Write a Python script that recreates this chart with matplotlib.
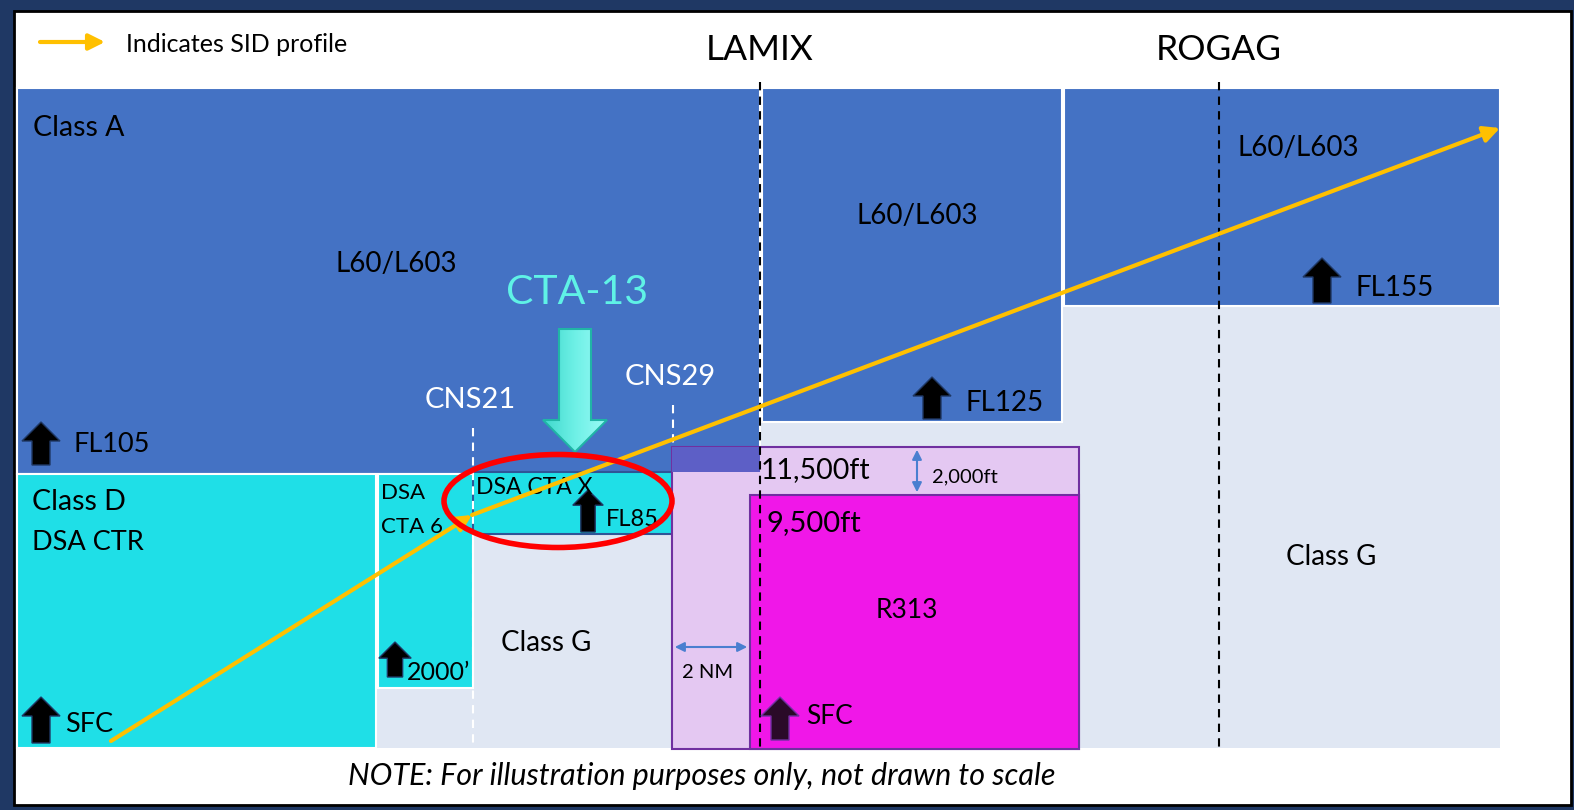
import numpy as np
import matplotlib.pyplot as plt
from matplotlib.colors import LinearSegmentedColormap
from matplotlib.patches import Rectangle, Ellipse, Polygon, FancyArrowPatch

plt.rcParams['font.family'] = ['Lato', 'DejaVu Sans']

# colours
NAVY = '#1f3864'
BLUE = '#4472c4'
CYAN = '#1fdfe7'
LIGHT = '#e0e7f3'
LILAC = '#e4c8f2'
MAGENTA = '#f017e8'
PURPLE = '#7030a0'
OVERLAP = '#5d5fc6'
ORANGE = '#ffc000'

# airspace blocks: x0, y0, x1, y1 (picture pixels, y down)
class_g_area = [17, 88, 1500, 748]
class_a_blocks = [[17, 88, 760, 474], [762, 88, 1062, 422], [1064, 88, 1500, 306]]
class_d_ctr = [17, 474, 376, 748]
cta6 = [378, 474, 473, 688]
cta_x = [473, 472, 672, 534]
buffer_box = [672, 447, 1079, 749]
r313 = [750, 495, 1079, 749]
overlap = [672, 447, 760, 472]

# waypoint dashed lines: name, x, y_top, y_bottom
waypoints = [['LAMIX', 760, 82, 749], ['ROGAG', 1219, 82, 748]]
cns_points = [['CNS21', 473, 428, 748], ['CNS29', 673, 405, 447]]

# SID profile segments
sid_x = [111, 472, 1500]
sid_y = [741, 515, 128]

# vertical limit arrows: x centre, top, bottom, label, label x, label y, font size, arrow scale
limit_arrows = [
    [41, 422, 465, 'FL105', 73, 445, 19.5, 1.0],
    [932, 377, 419, 'FL125', 965, 403, 20, 1.0],
    [1322, 258, 303, 'FL155', 1356, 288, 20, 1.0],
    [41, 697, 743, 'SFC', 65, 725, 19.5, 1.0],
    [395, 642, 677, '2000\u2019', 407, 672, 18, 0.85],
    [588, 490, 532, 'FL85', 606, 520, 17, 0.8],
]

# text labels: text, x, y, size, alignment
labels = [
    ['Class A', 33, 128, 20.5, 'left'],
    ['L60/L603', 396, 264, 20, 'center'],
    ['L60/L603', 917, 216, 20, 'center'],
    ['L60/L603', 1237, 148, 20, 'left'],
    ['Class D', 32, 502, 20.5, 'left'],
    ['DSA CTR', 32, 543, 19.5, 'left'],
    ['DSA', 381, 493, 16, 'left'],
    ['CTA 6', 381, 527, 16, 'left'],
    ['DSA CTA X', 476, 488, 16.5, 'left'],
    ['Class G', 546, 643, 20, 'center'],
    ['Class G', 1331, 557, 20, 'center'],
    ['11,500ft', 761, 470, 20.5, 'left'],
    ['2,000ft', 932, 477, 14.5, 'left'],
    ['9,500ft', 766, 523, 21, 'left'],
    ['R313', 907, 610, 19, 'center'],
    ['2 NM', 708, 673, 14.5, 'center'],
]

fig = plt.figure(figsize=(15.74, 8.10), dpi=100)
fig.patch.set_facecolor(NAVY)
ax = fig.add_axes([0, 0, 1, 1])
ax.set_xlim(0, 1574)
ax.set_ylim(810, 0)
ax.axis('off')


def box(b, fc, ec='none', lw=0, z=1):
    ax.add_patch(Rectangle((b[0], b[1]), b[2] - b[0], b[3] - b[1],
                           facecolor=fc, edgecolor=ec, linewidth=lw, zorder=z))


def up_arrow(x, top, bottom, scale=1.0, fc='black', ec=NAVY):
    hw = 19 * scale
    sw = 9 * scale
    hl = 19 * scale
    pts = [(x, top), (x + hw, top + hl), (x + sw, top + hl), (x + sw, bottom),
           (x - sw, bottom), (x - sw, top + hl), (x - hw, top + hl)]
    ax.add_patch(Polygon(pts, closed=True, facecolor=fc, edgecolor=ec, lw=1, zorder=6))


# white panel
ax.add_patch(Rectangle((14, 11), 1557, 794, facecolor='white', edgecolor='black', lw=2, zorder=0))

box(class_g_area, LIGHT)
for b in class_a_blocks:
    box(b, BLUE, 'white', 1.5, z=2)
box(class_d_ctr, CYAN, 'white', 1.5, z=2)
box(cta6, CYAN, 'white', 1.5, z=2)
box(cta_x, CYAN, '#2f5597', 1.5, z=3)
box(buffer_box, LILAC, PURPLE, 1.5, z=3)
box(r313, MAGENTA, PURPLE, 1.5, z=3)
box(overlap, OVERLAP, z=3)

for name, x, y0, y1 in waypoints:
    ax.plot([x, x], [y0, y1], color='black', lw=1.5, ls=(0, (4, 3)), zorder=5)
    ax.text(x, 50, name, fontsize=25.5, ha='center', va='center', color='black')
for name, x, y0, y1 in cns_points:
    ax.plot([x, x], [y0, y1], color='white', lw=1.5, ls=(0, (4, 3)), zorder=4)
    ax.text(x - 3, y0 - 28, name, fontsize=21, ha='center', va='center', color='white')

# dimension arrows
ax.annotate('', xy=(917, 447), xytext=(917, 495),
            arrowprops=dict(arrowstyle='<|-|>', color='#4a7fd0', lw=1.5, mutation_scale=14), zorder=6)
ax.annotate('', xy=(672, 647), xytext=(750, 647),
            arrowprops=dict(arrowstyle='<|-|>', color='#4a7fd0', lw=1.5, mutation_scale=14), zorder=6)

for x, top, bottom, label, lx, ly, fs, s in limit_arrows:
    up_arrow(x, top, bottom, s)
    ax.text(lx, ly, label, fontsize=fs, ha='left', va='center', zorder=7)
up_arrow(780, 697, 740, 1.0, fc='#2a0a28', ec=PURPLE)
ax.text(806, 717, 'SFC', fontsize=19, ha='left', va='center', zorder=7)

# CTA-13 pointer with a soft gradient
cx = 575
pts = [(cx - 16, 329), (cx + 16, 329), (cx + 16, 420), (cx + 32, 420), (cx, 452),
       (cx - 32, 420), (cx - 16, 420)]
arrow = Polygon(pts, closed=True, facecolor='none', edgecolor='#20b5a6', lw=1.5, zorder=7)
ax.add_patch(arrow)
grad = LinearSegmentedColormap.from_list('cta', ['#3fd8cc', '#6ef0e6', '#9afaf6'])
img = ax.imshow(np.tile(np.linspace(0, 1, 64), (8, 1)), cmap=grad, aspect='auto',
                extent=(cx - 32, cx + 32, 452, 329), zorder=6)
img.set_clip_path(arrow)
ax.set_xlim(0, 1574)
ax.set_ylim(810, 0)
ax.text(577, 292, 'CTA-13', fontsize=29.5, ha='center', va='center', color='#5ff2e6')

# SID profile
for i in range(len(sid_x) - 1):
    ax.add_patch(FancyArrowPatch((sid_x[i], sid_y[i]), (sid_x[i + 1], sid_y[i + 1]),
                                 arrowstyle='-|>', mutation_scale=24, color=ORANGE, lw=3,
                                 shrinkA=0, shrinkB=0, zorder=8))
ax.add_patch(FancyArrowPatch((40, 42), (105, 42), arrowstyle='-|>', mutation_scale=24,
                             color=ORANGE, lw=3, shrinkA=0, shrinkB=0, zorder=8))
ax.text(126, 45, 'Indicates SID profile', fontsize=18, ha='left', va='center')

# red highlight
ax.add_patch(Ellipse((558, 501), 228, 93, facecolor='none', edgecolor='#ff0000', lw=4, zorder=9))

for text, x, y, fs, ha in labels:
    ax.text(x, y, text, fontsize=fs, ha=ha, va='center', zorder=7)

ax.text(702, 776, 'NOTE: For illustration purposes only, not drawn to scale', fontsize=22,
        style='italic', ha='center', va='center')

fig.savefig('out.png', dpi=100, facecolor=NAVY)
